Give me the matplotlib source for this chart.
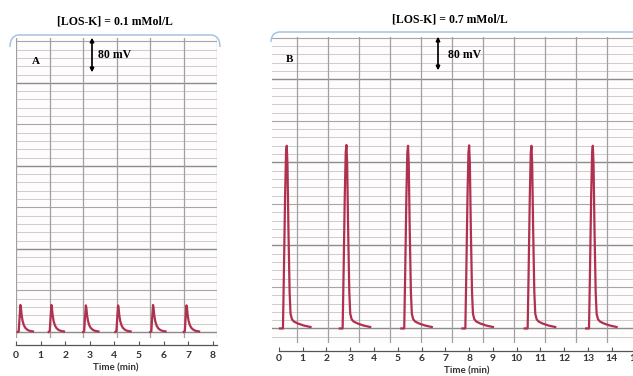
import numpy as np
import matplotlib.pyplot as plt
from matplotlib.path import Path
from matplotlib.patches import PathPatch

# ---- data ----
# panel A : [LOS-K] = 0.1 mMol/L
a_title = '[LOS-K] = 0.1 mMol/L'
a_onsets = [0.07, 1.33, 2.73, 4.04, 5.46, 6.82]      # min
a_heights = [65, 65, 64, 64, 65, 64]                 # mV
a_shape_t = [0.00, 0.04, 0.08, 0.11, 0.13, 0.16, 0.20, 0.25, 0.31, 0.38, 0.46, 0.55, 0.62]
a_shape_v = [0.00, 0.02, 0.60, 1.00, 0.90, 0.62, 0.40, 0.25, 0.15, 0.09, 0.05, 0.03, 0.02]
a_ticks = list(range(0, 9))

# panel B : [LOS-K] = 0.7 mMol/L
b_title = '[LOS-K] = 0.7 mMol/L'
b_onsets = [0.05, 2.56, 5.15, 7.72, 10.34, 12.92]
b_heights = [440, 442, 440, 441, 440, 440]
b_shape_t = [0.00, 0.12, 0.16, 0.21, 0.25, 0.28, 0.31, 0.35, 0.40, 0.44, 0.50, 0.58, 0.75, 1.00, 1.28]
b_shape_v = [0.00, 0.00, 0.30, 0.72, 0.96, 1.00, 0.90, 0.55, 0.20, 0.08, 0.05, 0.038, 0.027, 0.016, 0.008]
b_ticks = list(range(0, 16))

TRACE = '#b0304f'
W, H = 633, 376

fig = plt.figure(figsize=(W / 100, H / 100), dpi=100)


def rect(left, top, right, bottom):
    return [left / W, 1 - bottom / H, (right - left) / W, (bottom - top) / H]


def fpt(x, y):
    return (x / W, 1 - y / H)


def chart_paper(ax, vlines):
    ax.set_facecolor('#fefcfc')
    y0, y1 = ax.get_ylim()
    for y in np.arange(-40, y1, 20):
        if y < y0:
            continue
        if y % 200 == 0:
            ax.axhline(y, color='#8c8c8c', lw=1.0, zorder=1)
        elif y % 100 == 0:
            ax.axhline(y, color='#a6a6a6', lw=0.8, zorder=1)
        else:
            ax.axhline(y, color='#c4c4c4', lw=0.6, zorder=1)
    for x in vlines:
        ax.axvline(x, color='#a0a0a0', lw=0.9, zorder=1)


def style_axis(ax, ticks, outward, pad):
    for s in ['top', 'left', 'right']:
        ax.spines[s].set_visible(False)
    ax.spines['bottom'].set_position(('outward', outward))
    ax.spines['bottom'].set_color('#555555')
    ax.spines['bottom'].set_linewidth(0.9)
    ax.set_yticks([])
    ax.set_xticks(ticks)
    ax.tick_params(axis='x', direction='in', length=3, width=0.8, color='#555555',
                   labelsize=7.5, labelcolor='#333333', pad=pad)
    plt.setp(ax.get_xticklabels(), fontweight='bold', family='Lato')


def draw_peaks(ax, onsets, heights, st, sv):
    for t0, h in zip(onsets, heights):
        ax.plot(np.array(st) + t0, np.array(sv) * h, color=TRACE, lw=1.6,
                solid_joinstyle='round', zorder=3)


# ---------------- panel A ----------------
axA = fig.add_axes(rect(16, 38, 217, 338))
axA.set_xlim(0, 8.17)
axA.set_ylim(-14.5, 708)
chart_paper(axA, np.linspace(0, 8.17, 7))
draw_peaks(axA, a_onsets, a_heights, a_shape_t, a_shape_v)
style_axis(axA, a_ticks, 5, 4)

# ---------------- panel B ----------------
axB = fig.add_axes(rect(272, 37, 638, 343))
axB.set_xlim(-0.29, 15.1)
axB.set_ylim(-35, 702)
chart_paper(axB, 0.756 + 1.3025 * np.arange(0, 12))
draw_peaks(axB, b_onsets, b_heights, b_shape_t, b_shape_v)
style_axis(axB, b_ticks, 6, 2)
axB.spines['bottom'].set_bounds(0, 15.1)

# ---------------- annotations ----------------
serif = dict(family='Liberation Serif', fontweight='bold', color='black')
fig.text(*fpt(115, 22), a_title, ha='center', va='center', fontsize=8.5, **serif)
fig.text(*fpt(450, 20), b_title, ha='center', va='center', fontsize=8.5, **serif)
fig.text(*fpt(36, 61), 'A', ha='center', va='center', fontsize=8, **serif)
fig.text(*fpt(290, 59), 'B', ha='center', va='center', fontsize=8, **serif)
fig.text(*fpt(98, 55), '80 mV', ha='left', va='center', fontsize=8.5, **serif)
fig.text(*fpt(448, 55), '80 mV', ha='left', va='center', fontsize=8.5, **serif)

arrow = dict(arrowstyle='<|-|>', color='black', lw=0.9, mutation_scale=6,
             shrinkA=0, shrinkB=0)
fig.add_artist(plt.annotate('', xy=fpt(92, 38), xytext=fpt(92, 72),
                            xycoords='figure fraction', arrowprops=arrow))
fig.add_artist(plt.annotate('', xy=fpt(438, 37), xytext=fpt(438, 70),
                            xycoords='figure fraction', arrowprops=arrow))

fig.text(*fpt(116, 368), 'Time (min)', ha='center', va='center', fontsize=7,
         fontweight='bold', family='Lato', color='#333333')
fig.text(*fpt(467, 371), 'Time (min)', ha='center', va='center', fontsize=7,
         fontweight='bold', family='Lato', color='#333333')

# light blue brackets over each recording
brace = '#9dbfe0'
pa = Path([fpt(10, 47), fpt(10, 36), fpt(18, 35), fpt(212, 35),
           fpt(220, 36), fpt(220, 47)],
          [Path.MOVETO, Path.CURVE3, Path.CURVE3, Path.LINETO, Path.CURVE3, Path.CURVE3])
fig.add_artist(PathPatch(pa, transform=fig.transFigure, fill=False, ec=brace, lw=1.0))
pb = Path([fpt(271, 42), fpt(271, 33), fpt(279, 32), fpt(633, 32)],
          [Path.MOVETO, Path.CURVE3, Path.CURVE3, Path.LINETO])
fig.add_artist(PathPatch(pb, transform=fig.transFigure, fill=False, ec=brace, lw=1.0))

fig.savefig('out.png', dpi=100, facecolor='white')
